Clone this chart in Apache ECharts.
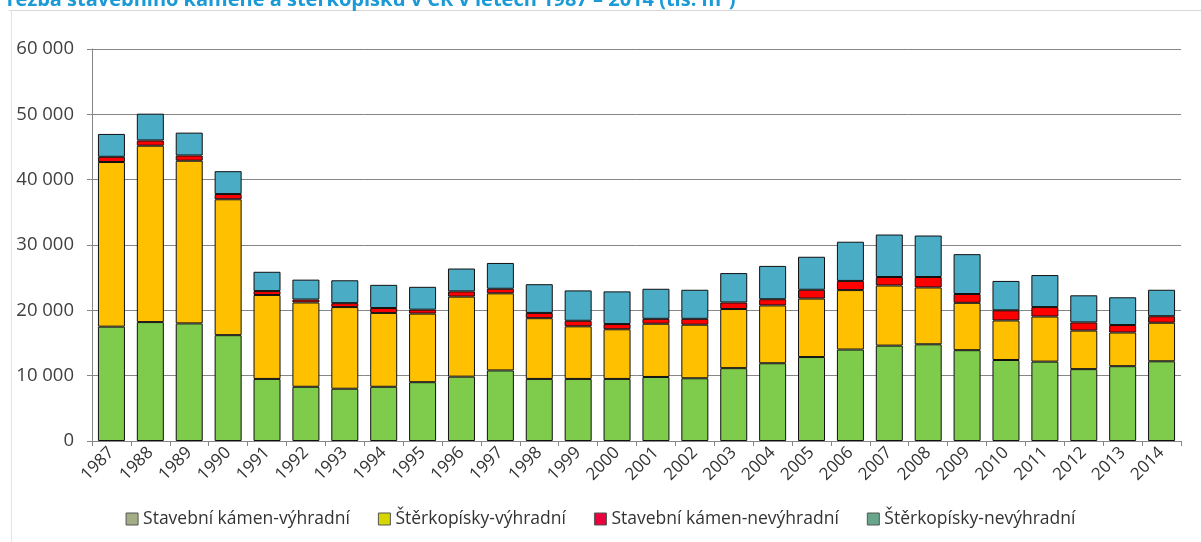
<!DOCTYPE html>
<html>
<head>
<meta charset="utf-8">
<script src="https://cdn.jsdelivr.net/npm/echarts@6/dist/echarts.min.js"></script>
<style>
  html, body { margin: 0; padding: 0; background: #fff; }
  #chart { width: 1201px; height: 542px; }
</style>
</head>
<body>
<div id="chart"></div>
<script>
// roky
const years = ['1987', '1988', '1989', '1990', '1991', '1992', '1993', '1994', '1995', '1996',
  '1997', '1998', '1999', '2000', '2001', '2002', '2003', '2004', '2005', '2006',
  '2007', '2008', '2009', '2010', '2011', '2012', '2013', '2014'];

// tis. m3
const kamenVyhradni = [17500, 18200, 18000, 16200, 9500, 8300, 8000, 8300, 9000, 9850,
  10800, 9500, 9500, 9500, 9800, 9600, 11150, 11900, 12850, 14000,
  14600, 14800, 13900, 12400, 12150, 11000, 11450, 12200];
const sterkVyhradni = [25200, 27000, 24900, 20800, 12850, 12900, 12500, 11300, 10500, 12250,
  11800, 9300, 8050, 7600, 8150, 8200, 9050, 8850, 8950, 9100,
  9200, 8700, 7250, 6050, 6900, 5900, 5150, 5900];
const kamenNevyhradni = [800, 800, 800, 800, 600, 450, 600, 750, 600, 800,
  700, 800, 850, 800, 750, 900, 1000, 950, 1350, 1400,
  1300, 1600, 1350, 1550, 1450, 1250, 1150, 1000];
const sterkNevyhradni = [3500, 4100, 3500, 3500, 2950, 3050, 3500, 3550, 3500, 3500,
  3950, 4400, 4650, 5000, 4600, 4450, 4500, 5100, 5050, 6000,
  6500, 6350, 6100, 4500, 4900, 4150, 4250, 4050];

const seriesNames = ['Stavební kámen-výhradní', 'Štěrkopísky-výhradní', 'Stavební kámen-nevýhradní', 'Štěrkopísky-nevýhradní'];

const chart = echarts.init(document.getElementById('chart'));

function bar(name, data, color) {
  return {
    name: name,
    type: 'bar',
    stack: 'total',
    barWidth: 27,
    data: data,
    itemStyle: { color: color, borderColor: '#111', borderWidth: 1 }
  };
}

const option = {
  animation: false,
  textStyle: { fontFamily: 'Open Sans' },
  title: {
    text: 'Těžba stavebního kamene a štěrkopísku v ČR v letech 1987 – 2014 (tis. m³)',
    left: -1,
    top: -15,
    textStyle: { color: '#1a9ad6', fontSize: 20, fontWeight: 'bold', fontFamily: 'Open Sans' }
  },
  graphic: [
    { type: 'line', shape: { x1: 9, y1: 10.5, x2: 1201, y2: 10.5 }, style: { stroke: '#d8d8d8', lineWidth: 1 } },
    { type: 'line', shape: { x1: 11.5, y1: 10, x2: 11.5, y2: 542 }, style: { stroke: '#e4e4e4', lineWidth: 1 } }
  ],
  legend: {
    bottom: 9,
    left: 'center',
    icon: 'rect',
    itemWidth: 12,
    itemHeight: 12,
    itemGap: 28,
    textStyle: { fontSize: 17.5, color: '#333', fontFamily: 'Open Sans' },
    data: [
      { name: seriesNames[0], itemStyle: { color: '#a4ae86', borderColor: '#555', borderWidth: 1 } },
      { name: seriesNames[1], itemStyle: { color: '#d6d600', borderColor: '#555', borderWidth: 1 } },
      { name: seriesNames[2], itemStyle: { color: '#ea003c', borderColor: '#555', borderWidth: 1 } },
      { name: seriesNames[3], itemStyle: { color: '#67a68b', borderColor: '#555', borderWidth: 1 } }
    ]
  },
  grid: { left: 92, right: 20, top: 49, bottom: 101 },
  xAxis: {
    type: 'category',
    data: years,
    axisLine: { lineStyle: { color: '#868686' } },
    axisTick: { show: true, length: 5, lineStyle: { color: '#868686' } },
    axisLabel: { rotate: 45, fontSize: 17, color: '#333', margin: 9, interval: 0 }
  },
  yAxis: {
    type: 'value',
    min: 0,
    max: 60000,
    interval: 10000,
    axisLine: { show: true, lineStyle: { color: '#868686' } },
    axisTick: { show: true, length: 5, inside: false, lineStyle: { color: '#868686' } },
    splitLine: { lineStyle: { color: '#868686' } },
    axisLabel: {
      fontSize: 18.5,
      color: '#404040',
      margin: 18,
      formatter: function (v) { return v === 0 ? '0' : (v / 1000) + ' 000'; }
    }
  },
  series: [
    bar(seriesNames[0], kamenVyhradni, '#7fcb4c'),
    bar(seriesNames[1], sterkVyhradni, '#ffc000'),
    bar(seriesNames[2], kamenNevyhradni, '#ff0000'),
    bar(seriesNames[3], sterkNevyhradni, '#4bacc6')
  ]
};

chart.setOption(option);
</script>
</body>
</html>
